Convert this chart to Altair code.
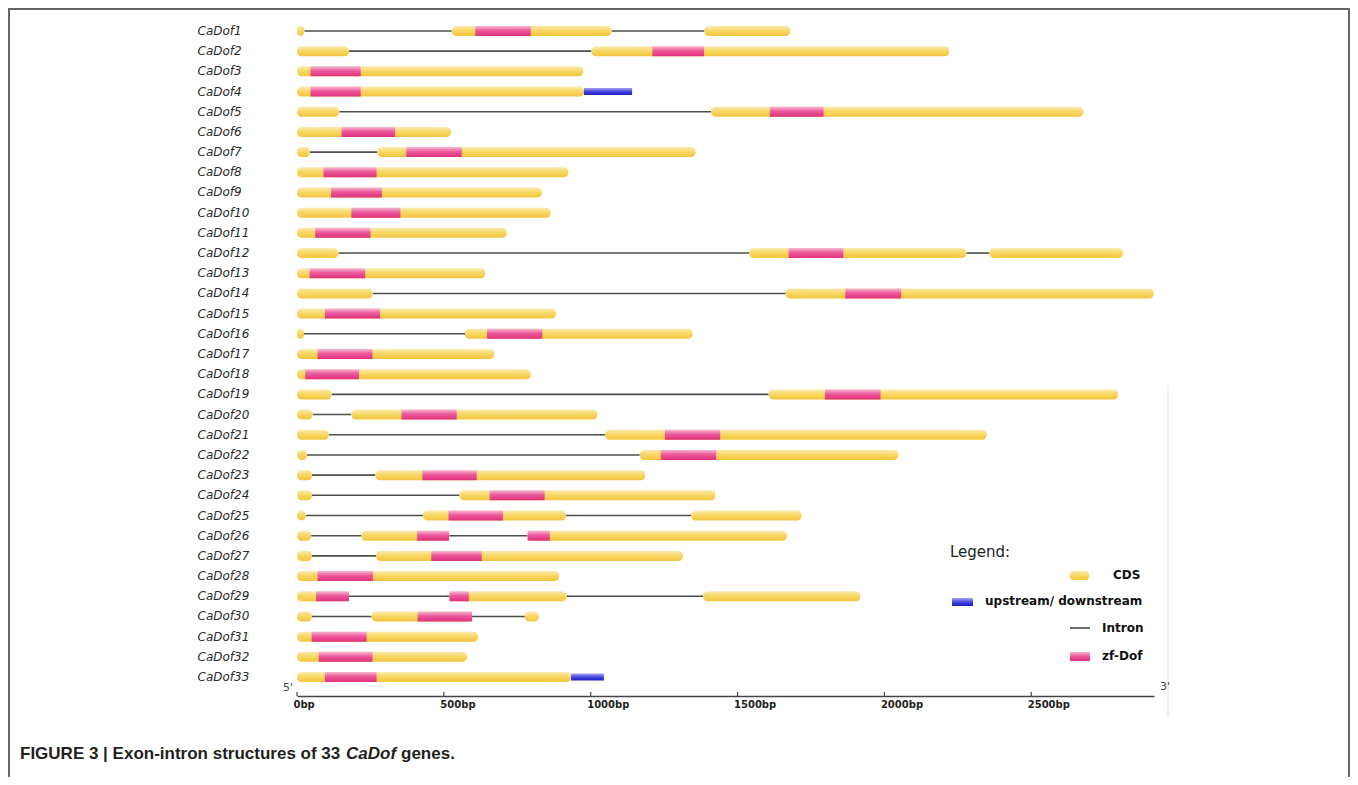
import altair as alt
import pandas as pd

GENES = ["CaDof1", "CaDof2", "CaDof3", "CaDof4", "CaDof5", "CaDof6", "CaDof7",
         "CaDof8", "CaDof9", "CaDof10", "CaDof11", "CaDof12", "CaDof13", "CaDof14",
         "CaDof15", "CaDof16", "CaDof17", "CaDof18", "CaDof19", "CaDof20", "CaDof21",
         "CaDof22", "CaDof23", "CaDof24", "CaDof25", "CaDof26", "CaDof27", "CaDof28",
         "CaDof29", "CaDof30", "CaDof31", "CaDof32", "CaDof33"]

# CDS exons: (gene number, start bp, end bp)
CDS_EXONS = [
    (1, 0, 25), (1, 527, 1071), (1, 1387, 1679),
    (2, 0, 177), (2, 1003, 2221),
    (3, 0, 975),
    (4, 0, 977),
    (5, 0, 144), (5, 1410, 2677),
    (6, 0, 524),
    (7, 0, 44), (7, 273, 1357),
    (8, 0, 924),
    (9, 0, 834),
    (10, 0, 864),
    (11, 0, 714),
    (12, 0, 141), (12, 1540, 2279), (12, 2358, 2812),
    (13, 0, 641),
    (14, 0, 258), (14, 1664, 2917),
    (15, 0, 882),
    (16, 0, 24), (16, 572, 1347),
    (17, 0, 672),
    (18, 0, 796),
    (19, 0, 118), (19, 1606, 2796),
    (20, 0, 53), (20, 185, 1023),
    (21, 0, 108), (21, 1049, 2348),
    (22, 0, 34), (22, 1167, 2047),
    (23, 0, 51), (23, 267, 1186),
    (24, 0, 51), (24, 553, 1425),
    (25, 0, 30), (25, 429, 916), (25, 1342, 1718),
    (26, 0, 48), (26, 219, 518), (26, 785, 1668),
    (27, 0, 51), (27, 269, 1314),
    (28, 0, 893),
    (29, 0, 177), (29, 519, 918), (29, 1383, 1918),
    (30, 0, 51), (30, 254, 596), (30, 776, 823),
    (31, 0, 617),
    (32, 0, 579),
    (33, 0, 933),
]

# zf-Dof domains: (gene number, start bp, end bp)
ZF_DOF = [
    (1, 607, 796), (2, 1210, 1386), (3, 46, 217), (4, 46, 217), (5, 1610, 1793),
    (6, 152, 334), (7, 372, 561), (8, 90, 271), (9, 116, 289), (10, 185, 352),
    (11, 62, 250), (12, 1674, 1860), (13, 43, 232), (14, 1867, 2057), (15, 95, 283),
    (16, 647, 835), (17, 70, 257), (18, 28, 211), (19, 1798, 1987), (20, 356, 544),
    (21, 1253, 1441), (22, 1239, 1427), (23, 427, 612), (24, 656, 843), (25, 516, 701),
    (26, 409, 518), (26, 785, 861), (27, 457, 629), (28, 70, 259),
    (29, 65, 177), (29, 519, 585), (30, 411, 596), (31, 50, 237), (32, 74, 257),
    (33, 95, 271),
]

# upstream / downstream regions
UTR = [(4, 977, 1141), (33, 933, 1045)]

TICK_VALUES = [0, 500, 1000, 1500, 2000, 2500]

LEGEND_LABELS = ["CDS", "upstream/ downstream", "Intron", "zf-Dof"]

# ---------------------------------------------------------------------------
def seg_df(rows):
    return pd.DataFrame([{"gene": GENES[g - 1], "start": s, "end": e} for g, s, e in rows])

cds_df = seg_df(CDS_EXONS)
zf_df = seg_df(ZF_DOF)
utr_df = seg_df(UTR)

intron_rows = []
for g in sorted(set(r[0] for r in CDS_EXONS)):
    ex = sorted([(s, e) for gg, s, e in CDS_EXONS if gg == g])
    for (s1, e1), (s2, e2) in zip(ex[:-1], ex[1:]):
        intron_rows.append((g, e1, s2))
intron_df = seg_df(intron_rows)
tick_df = pd.DataFrame({"v": TICK_VALUES})

def grad(stops):
    return alt.LinearGradient(
        gradient="linear", x1=0, x2=0, y1=0, y2=1,
        stops=[alt.GradientStop(color=c, offset=o) for o, c in stops])

YELLOW = grad([(0, "#FBEBB0"), (0.45, "#F8D867"), (1, "#F2C53C")])
PINK = grad([(0, "#F7B8D3"), (0.45, "#EC5A9A"), (1, "#E0307D")])
BLUE = grad([(0, "#A5A5F5"), (0.5, "#4848E0"), (1, "#1C1CC6")])

X_SCALE = alt.Scale(domain=[0, 2918], nice=False, zero=True)
X_AXIS = alt.Axis(values=TICK_VALUES, labelExpr="datum.value + 'bp'", title=None,
                  grid=False, ticks=False, tickSize=0, labelAlign="left", labelOffset=-4,
                  labelBaseline="top", labelPadding=3, labelFlush=False,
                  labelFont="DejaVu Sans", labelFontWeight="bold", labelFontSize=10,
                  labelColor="#222222", domainColor="#444444", domainWidth=1.5)
Y_SCALE = alt.Scale(domain=GENES, paddingInner=0, paddingOuter=0.44)
Y_AXIS = alt.Axis(title=None, domain=False, ticks=False, tickSize=0, labelAlign="left",
                  labelPadding=100, labelFont="DejaVu Sans", labelFontStyle="italic",
                  labelFontSize=12, labelColor="#2a2a2a")

def xenc():
    return alt.X("start:Q", scale=X_SCALE, axis=X_AXIS)

def yenc():
    return alt.Y("gene:N", scale=Y_SCALE, axis=Y_AXIS, sort=GENES)

introns = alt.Chart(intron_df).mark_rule(color="#4d4d4d", strokeWidth=1.6).encode(
    x=xenc(), x2="end:Q", y=yenc())
cds = alt.Chart(cds_df).mark_bar(size=10, cornerRadius=4.5, color=YELLOW).encode(
    x=xenc(), x2="end:Q", y=yenc())
zf = alt.Chart(zf_df).mark_bar(size=10, color=PINK).encode(
    x=xenc(), x2="end:Q", y=yenc())
utr = alt.Chart(utr_df).mark_bar(size=7, color=BLUE).encode(
    x=xenc(), x2="end:Q", y=yenc())

ticks = alt.Chart(tick_df).mark_rule(color="#444444", strokeWidth=1.2).encode(
    x=alt.X("v:Q", scale=X_SCALE, axis=X_AXIS), y=alt.value(680), y2=alt.value(684))

one = pd.DataFrame({"a": [0]})

def txt(text, x, y, size, weight="normal", style="normal", color="#222222",
        font="DejaVu Sans", align="left"):
    return alt.Chart(one).mark_text(text=text, align=align, baseline="middle",
                                    font=font, fontSize=size, fontWeight=weight,
                                    fontStyle=style, color=color).encode(
        x=alt.value(x), y=alt.value(y))

def box(x1, x2, y1, y2, fill, radius=0):
    return alt.Chart(one).mark_rect(color=fill, cornerRadius=radius).encode(
        x=alt.value(x1), x2=alt.value(x2), y=alt.value(y1), y2=alt.value(y2))

frame = alt.Chart(one).mark_rect(fill="white", fillOpacity=0, stroke="#666666",
                                 strokeWidth=2).encode(
    x=alt.value(-288), x2=alt.value(1052), y=alt.value(-3), y2=alt.value(800))
artifact = alt.Chart(one).mark_rule(color="#eeeeee", strokeWidth=2).encode(
    x=alt.value(871), y=alt.value(373), y2=alt.value(706))

intron_sw = alt.Chart(one).mark_rule(color="#4d4d4d", strokeWidth=1.6).encode(
    x=alt.value(773), x2=alt.value(793), y=alt.value(616), )

legend = [
    txt("Legend:", 653, 540, 15, color="#222222"),
    box(773, 792, 559, 568, YELLOW, 3),
    txt(LEGEND_LABELS[0], 816, 563, 12, weight="bold", color="#111111"),
    box(655, 676, 586, 594, BLUE),
    txt(LEGEND_LABELS[1], 688, 589, 12, weight="bold", color="#111111"),
    intron_sw,
    txt(LEGEND_LABELS[2], 805, 616, 12, weight="bold", color="#111111"),
    box(773, 793, 640, 649, PINK),
    txt(LEGEND_LABELS[3], 805, 644, 12, weight="bold", color="#111111"),
]

ends = [
    txt("5'", -14, 676, 11, color="#444444"),
    txt("3'", 863, 675, 11, color="#444444"),
]

CAP_FONT = "Liberation Sans"
caption = [
    txt("FIGURE 3 | Exon-intron structures of 33", -277, 742, 17, weight="bold",
        color="#231f20", font=CAP_FONT),
    txt("CaDof", 49, 742, 17, weight="bold", style="italic", color="#231f20", font=CAP_FONT),
    txt("genes.", 104, 742, 17, weight="bold", color="#231f20", font=CAP_FONT),
]

chart = alt.layer(
    frame, artifact, introns, cds, zf, utr, ticks, *legend, *ends, *caption
).properties(
    width=857, height=684,
    padding={"left": 289, "top": 4, "right": 196, "bottom": 81},
    autosize=alt.AutoSizeParams(type="none"),
    background="white",
).configure_view(stroke=None)

chart.save("out.html", embed_options={"renderer": "svg", "actions": False})
